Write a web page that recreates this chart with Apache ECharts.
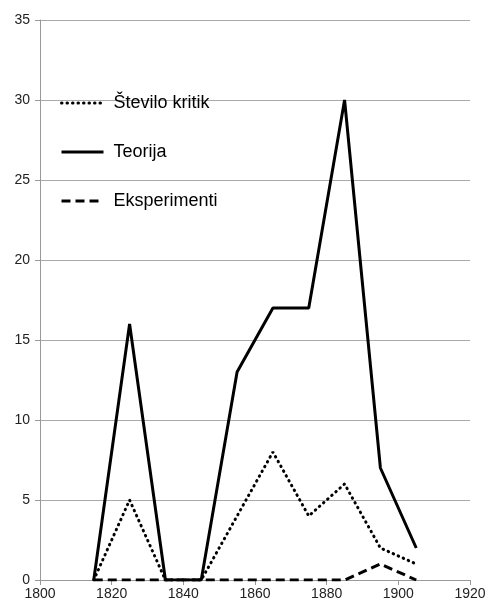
<!DOCTYPE html>
<html><head><meta charset="utf-8">
<script src="https://cdn.jsdelivr.net/npm/echarts@6/dist/echarts.min.js"></script>
<style>html,body{margin:0;padding:0;background:#fff}#c{width:489px;height:606px}</style>
</head><body><div id="c"></div>
<script>
const years = [1815, 1825, 1835, 1845, 1855, 1865, 1875, 1885, 1895, 1905];
const steviloKritik = [0, 5, 0, 0, 4, 8, 4, 6, 2, 1];
const teorija = [0, 16, 0, 0, 13, 17, 17, 30, 7, 2];
const eksperimenti = [0, 0, 0, 0, 0, 0, 0, 0, 1, 0];
const seriesNames = ['Število kritik', 'Teorija', 'Eksperimenti'];

const pair = arr => years.map((y, i) => [y, arr[i]]);
const chart = echarts.init(document.getElementById('c'));
const font = 'Liberation Sans, Arial, sans-serif';
chart.setOption({
  animation: false,
  backgroundColor: '#fff',
  grid: { left: 40, right: 19, top: 20, bottom: 26 },
  legend: {
    orient: 'vertical', left: 55, top: 89, itemWidth: 42, itemHeight: 14, itemGap: 31,
    data: seriesNames,
    itemStyle: { opacity: 0 },
    lineStyle: { width: 3 },
    textStyle: { fontFamily: font, fontSize: 18, color: '#000', padding: [0, 0, 0, 5] }
  },
  xAxis: {
    type: 'value', min: 1800, max: 1920, interval: 20,
    axisLine: { show: true, lineStyle: { color: '#999', width: 1 } },
    axisTick: { show: true, length: 5, lineStyle: { color: '#999' } },
    splitLine: { show: false },
    axisLabel: { color: '#222', fontFamily: font, fontSize: 14, margin: 7, formatter: v => String(v) }
  },
  yAxis: {
    type: 'value', min: 0, max: 35, interval: 5,
    axisLine: { show: true, lineStyle: { color: '#999', width: 1 } },
    axisTick: { show: true, length: 5, lineStyle: { color: '#999' } },
    splitLine: { show: true, lineStyle: { color: '#aaa', width: 1 } },
    axisLabel: { color: '#222', fontFamily: font, fontSize: 14, margin: 10 }
  },
  series: [
    { name: seriesNames[0], type: 'line', data: pair(steviloKritik), symbol: 'none',
      lineStyle: { color: '#000', width: 3, type: [0.5, 5], cap: 'round' }, itemStyle: { color: '#000' } },
    { name: seriesNames[1], type: 'line', data: pair(teorija), symbol: 'none',
      lineStyle: { color: '#000', width: 3 }, itemStyle: { color: '#000' } },
    { name: seriesNames[2], type: 'line', data: pair(eksperimenti), symbol: 'none',
      lineStyle: { color: '#000', width: 3, type: [9, 5] }, itemStyle: { color: '#000' } }
  ]
});
</script></body></html>
